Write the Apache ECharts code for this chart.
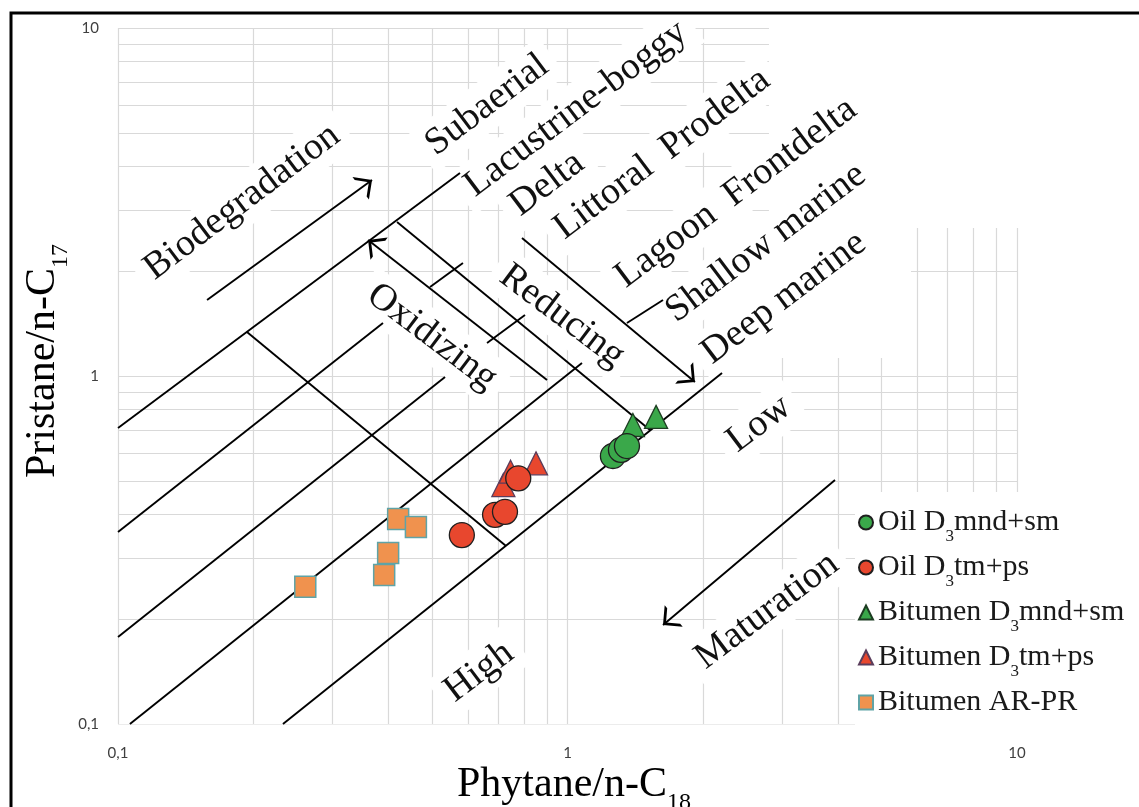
<!DOCTYPE html>
<html><head><meta charset="utf-8">
<script src="https://cdn.jsdelivr.net/npm/echarts@6/dist/echarts.min.js"></script>
<style>html,body{margin:0;padding:0;background:#fff}#c{width:1139px;height:807px}</style>
</head><body><div id="c"></div>
<script>
// ---------------- data ----------------
const oilMnd = [[1.262,0.589],[1.315,0.613],[1.356,0.629]];
const oilTm  = [[0.582,0.349],[0.690,0.399],[0.726,0.407],[0.777,0.508]];
const bitMnd = [[1.398,0.723],[1.574,0.763]];
const bitTm  = [[0.720,0.486],[0.747,0.531],[0.851,0.561]];
const bitAR  = [[0.261,0.248],[0.391,0.268],[0.399,0.310],[0.420,0.388],[0.460,0.368]];

const seriesNames = ['Oil D3mnd+sm','Oil D3tm+ps','Bitumen D3mnd+sm','Bitumen D3tm+ps','Bitumen AR-PR'];
const gridValues = [0.1,0.2,0.3,0.4,0.5,0.6,0.7,0.8,0.9,1,2,3,4,5,6,7,8,9,10];
const tickValues = [0.1,1,10];
const tickLabels = ['0,1','1','10'];

// boundary lines of the classification scheme (data coordinates)
const boundaryLines = [
  [[0.1,0.709],[0.5765,3.831]],
  [[0.1,0.356],[0.3886,1.420]],
  [[0.4945,1.802],[0.5854,2.112]],
  [[0.1,0.1778],[0.534,0.9934]],
  [[0.6622,1.244],[0.8043,1.497]],
  [[0.1063,0.1],[1.077,1.090]],
  [[1.356,1.420],[1.631,1.653]],
  [[0.2328,0.1],[2.207,1.020]],
  [[0.1936,1.338],[0.7300,0.3247]],
  [[0.4176,2.770],[1.526,0.6996]]
];
// arrows: from -> to (head at "to")
const arrowLines = [
  [[0.9004,0.9739],[0.3600,2.459]],
  [[0.7921,2.493],[1.921,0.9611]],
  [[0.1578,1.653],[0.3674,3.658]],
  [[3.936,0.5027],[1.631,0.1925]]
];
// annotation texts: text, anchor (data coords), angle (deg)
const noteTexts  = ['Biodegradation','Subaerial','Lacustrine-boggy','Delta','Littoral  Prodelta','Lagoon  Frontdelta','Shallow marine','Deep marine','Oxidizing','Reducing','Low','Maturation','High'];
const noteAnchor = [[0.1888,3.162],[0.6622,6.008],[1.044,5.852],[0.9004,3.563],[1.623,4.345],[2.371,3.357],[2.764,2.411],[3.031,1.676],[0.4995,1.294],[0.9722,1.487],[2.667,0.7278],[2.779,0.2112],[0.6354,0.1411]];
const noteAngle  = [37,37,37,37,37,37,37,37,-37,-37,37,37,37];
// blank (grid-free) areas of the original figure, data coords [x0,y0,x1,y1]
const blankAreas = [[2.821,2.663,10,10],[2.184,1.127,5.721,2.663]];

// ---------------- chart ----------------
const SERIF = '"Liberation Serif","Times New Roman",serif';
const chart = echarts.init(document.getElementById('c'));

function tickFmt(v){
  let best = 0;
  tickValues.forEach((t,i)=>{ if (Math.abs(Math.log10(t)-Math.log10(v)) < Math.abs(Math.log10(tickValues[best])-Math.log10(v))) best = i; });
  return tickLabels[best];
}
const gridSegs = [];
gridValues.forEach(v=>{
  gridSegs.push({coords:[[v,0.1],[v,10]]});
  gridSegs.push({coords:[[0.1,v],[10,v]]});
});
const chevron = 'path://M5,0 L5.01,0 Z M5,10 L10,20 L8.6,20 L5,12.8 L1.4,20 L0,20 Z';

const axisCommon = {
  type:'log', logBase:10, min:0.1, max:10,
  axisLine:{show:false}, axisTick:{show:false}, splitLine:{show:false}, minorSplitLine:{show:false},
  axisLabel:{formatter:tickFmt, fontSize:15, color:'#3f3f3f', fontFamily:'Lato'}
};

const legendRich = {
  t:{fontFamily:SERIF, fontSize:30, lineHeight:45, color:'#1a1a1a'},
  s:{fontFamily:SERIF, fontSize:17, lineHeight:17, padding:[28,0,0,0], verticalAlign:'top', color:'#1a1a1a'}
};

chart.setOption({
  animation:false,
  backgroundColor:'#fff',
  grid:{left:118, top:28, width:899, height:696},
  xAxis: Object.assign({}, axisCommon, {axisLabel:Object.assign({}, axisCommon.axisLabel, {margin:22})}),
  yAxis: Object.assign({}, axisCommon, {axisLabel:Object.assign({}, axisCommon.axisLabel, {margin:19})}),
  legend:{
    orient:'vertical', left:855, top:492, padding:[8,6,8,3], itemGap:0,
    itemWidth:14, itemHeight:14, backgroundColor:'#fff', z:10,
    data:[
      {name:seriesNames[0], icon:'circle'},
      {name:seriesNames[1], icon:'circle'},
      {name:seriesNames[2], icon:'triangle'},
      {name:seriesNames[3], icon:'triangle'},
      {name:seriesNames[4], icon:'rect'}
    ],
    formatter: name => {
      const i = name.indexOf('D3');
      if (i < 0) return '{t|' + name + '}{s| }';
      return '{t|' + name.slice(0,i+1) + '}{s|3}{t|' + name.slice(i+2) + '}';
    },
    textStyle:{rich:legendRich, fontFamily:SERIF, fontSize:30, color:'#1a1a1a'}
  },
  series:[
    {type:'lines', coordinateSystem:'cartesian2d', data:gridSegs, silent:true, z:1,
     lineStyle:{color:'#d9d9d9', width:1.2, opacity:1}},
    {type:'lines', coordinateSystem:'cartesian2d', silent:true, z:3,
     data:boundaryLines.map(c=>({coords:c})), lineStyle:{color:'#000', width:1.9, opacity:1}},
    {type:'lines', coordinateSystem:'cartesian2d', silent:true, z:3,
     symbol:['none', chevron], symbolSize:[14,28],
     data:arrowLines.map(c=>({coords:c})), lineStyle:{color:'#000', width:1.9, opacity:1}},
    {type:'scatter', name:seriesNames[0], data:oilMnd, symbol:'circle', symbolSize:25, z:6,
     itemStyle:{color:'#3aa84a', borderColor:'#1f1f1f', borderWidth:1.3, opacity:1}},
    {type:'scatter', name:seriesNames[1], data:oilTm, symbol:'circle', symbolSize:25, z:6,
     itemStyle:{color:'#e8472e', borderColor:'#1f1f1f', borderWidth:1.3, opacity:1}},
    {type:'scatter', name:seriesNames[2], data:bitMnd, symbol:'triangle', symbolSize:23, z:5,
     itemStyle:{color:'#3aa84a', borderColor:'#1d3d22', borderWidth:1.3, opacity:1}},
    {type:'scatter', name:seriesNames[3], data:bitTm, symbol:'triangle', symbolSize:23, z:5,
     itemStyle:{color:'#e8472e', borderColor:'#5a3d5c', borderWidth:1.3, opacity:1}},
    {type:'scatter', name:seriesNames[4], data:bitAR, symbol:'rect', symbolSize:21, z:5,
     itemStyle:{color:'#f0924e', borderColor:'#5fa3a6', borderWidth:1.5, opacity:1}}
  ]
});

// ---------------- annotations & titles ----------------
const titleRich = {
  t:{fontFamily:SERIF, fontSize:42, lineHeight:60, color:'#1a1a1a'},
  s:{fontFamily:SERIF, fontSize:24, lineHeight:24, padding:[36,0,0,0], verticalAlign:'top', color:'#1a1a1a'}
};
const toPx = d => chart.convertToPixel({xAxisIndex:0, yAxisIndex:0}, d);
const graphics = [
  {type:'rect', z:20, shape:{x:11, y:13, width:1300, height:1000}, style:{fill:'none', stroke:'#000', lineWidth:3}},
  {type:'text', z:4, x:574, y:785, style:{text:'{t|Phytane/n-C}{s|18}', rich:titleRich, align:'center', verticalAlign:'middle'}},
  {type:'text', z:4, x:43, y:361, rotation:Math.PI/2, style:{text:'{t|Pristane/n-C}{s|17}', rich:titleRich, align:'center', verticalAlign:'middle'}}
];
blankAreas.forEach(a=>{
  const p0 = toPx([a[0],a[3]]), p1 = toPx([a[2],a[1]]);
  graphics.push({type:'rect', z:1.5, silent:true, shape:{x:p0[0]-1, y:p0[1]-2, width:p1[0]-p0[0]+4, height:p1[1]-p0[1]+2}, style:{fill:'#fff'}});
});
noteTexts.forEach((t,i)=>{
  const p = toPx(noteAnchor[i]);
  graphics.push({type:'text', z:2, x:p[0], y:p[1], rotation:noteAngle[i]*Math.PI/180,
    style:{text:t, fontFamily:SERIF, fontSize:38, fill:'#111', align:'center', verticalAlign:'middle',
           backgroundColor:'#fff', padding:[5,10]}});
});
chart.setOption({graphic:graphics});
</script>
</body></html>
